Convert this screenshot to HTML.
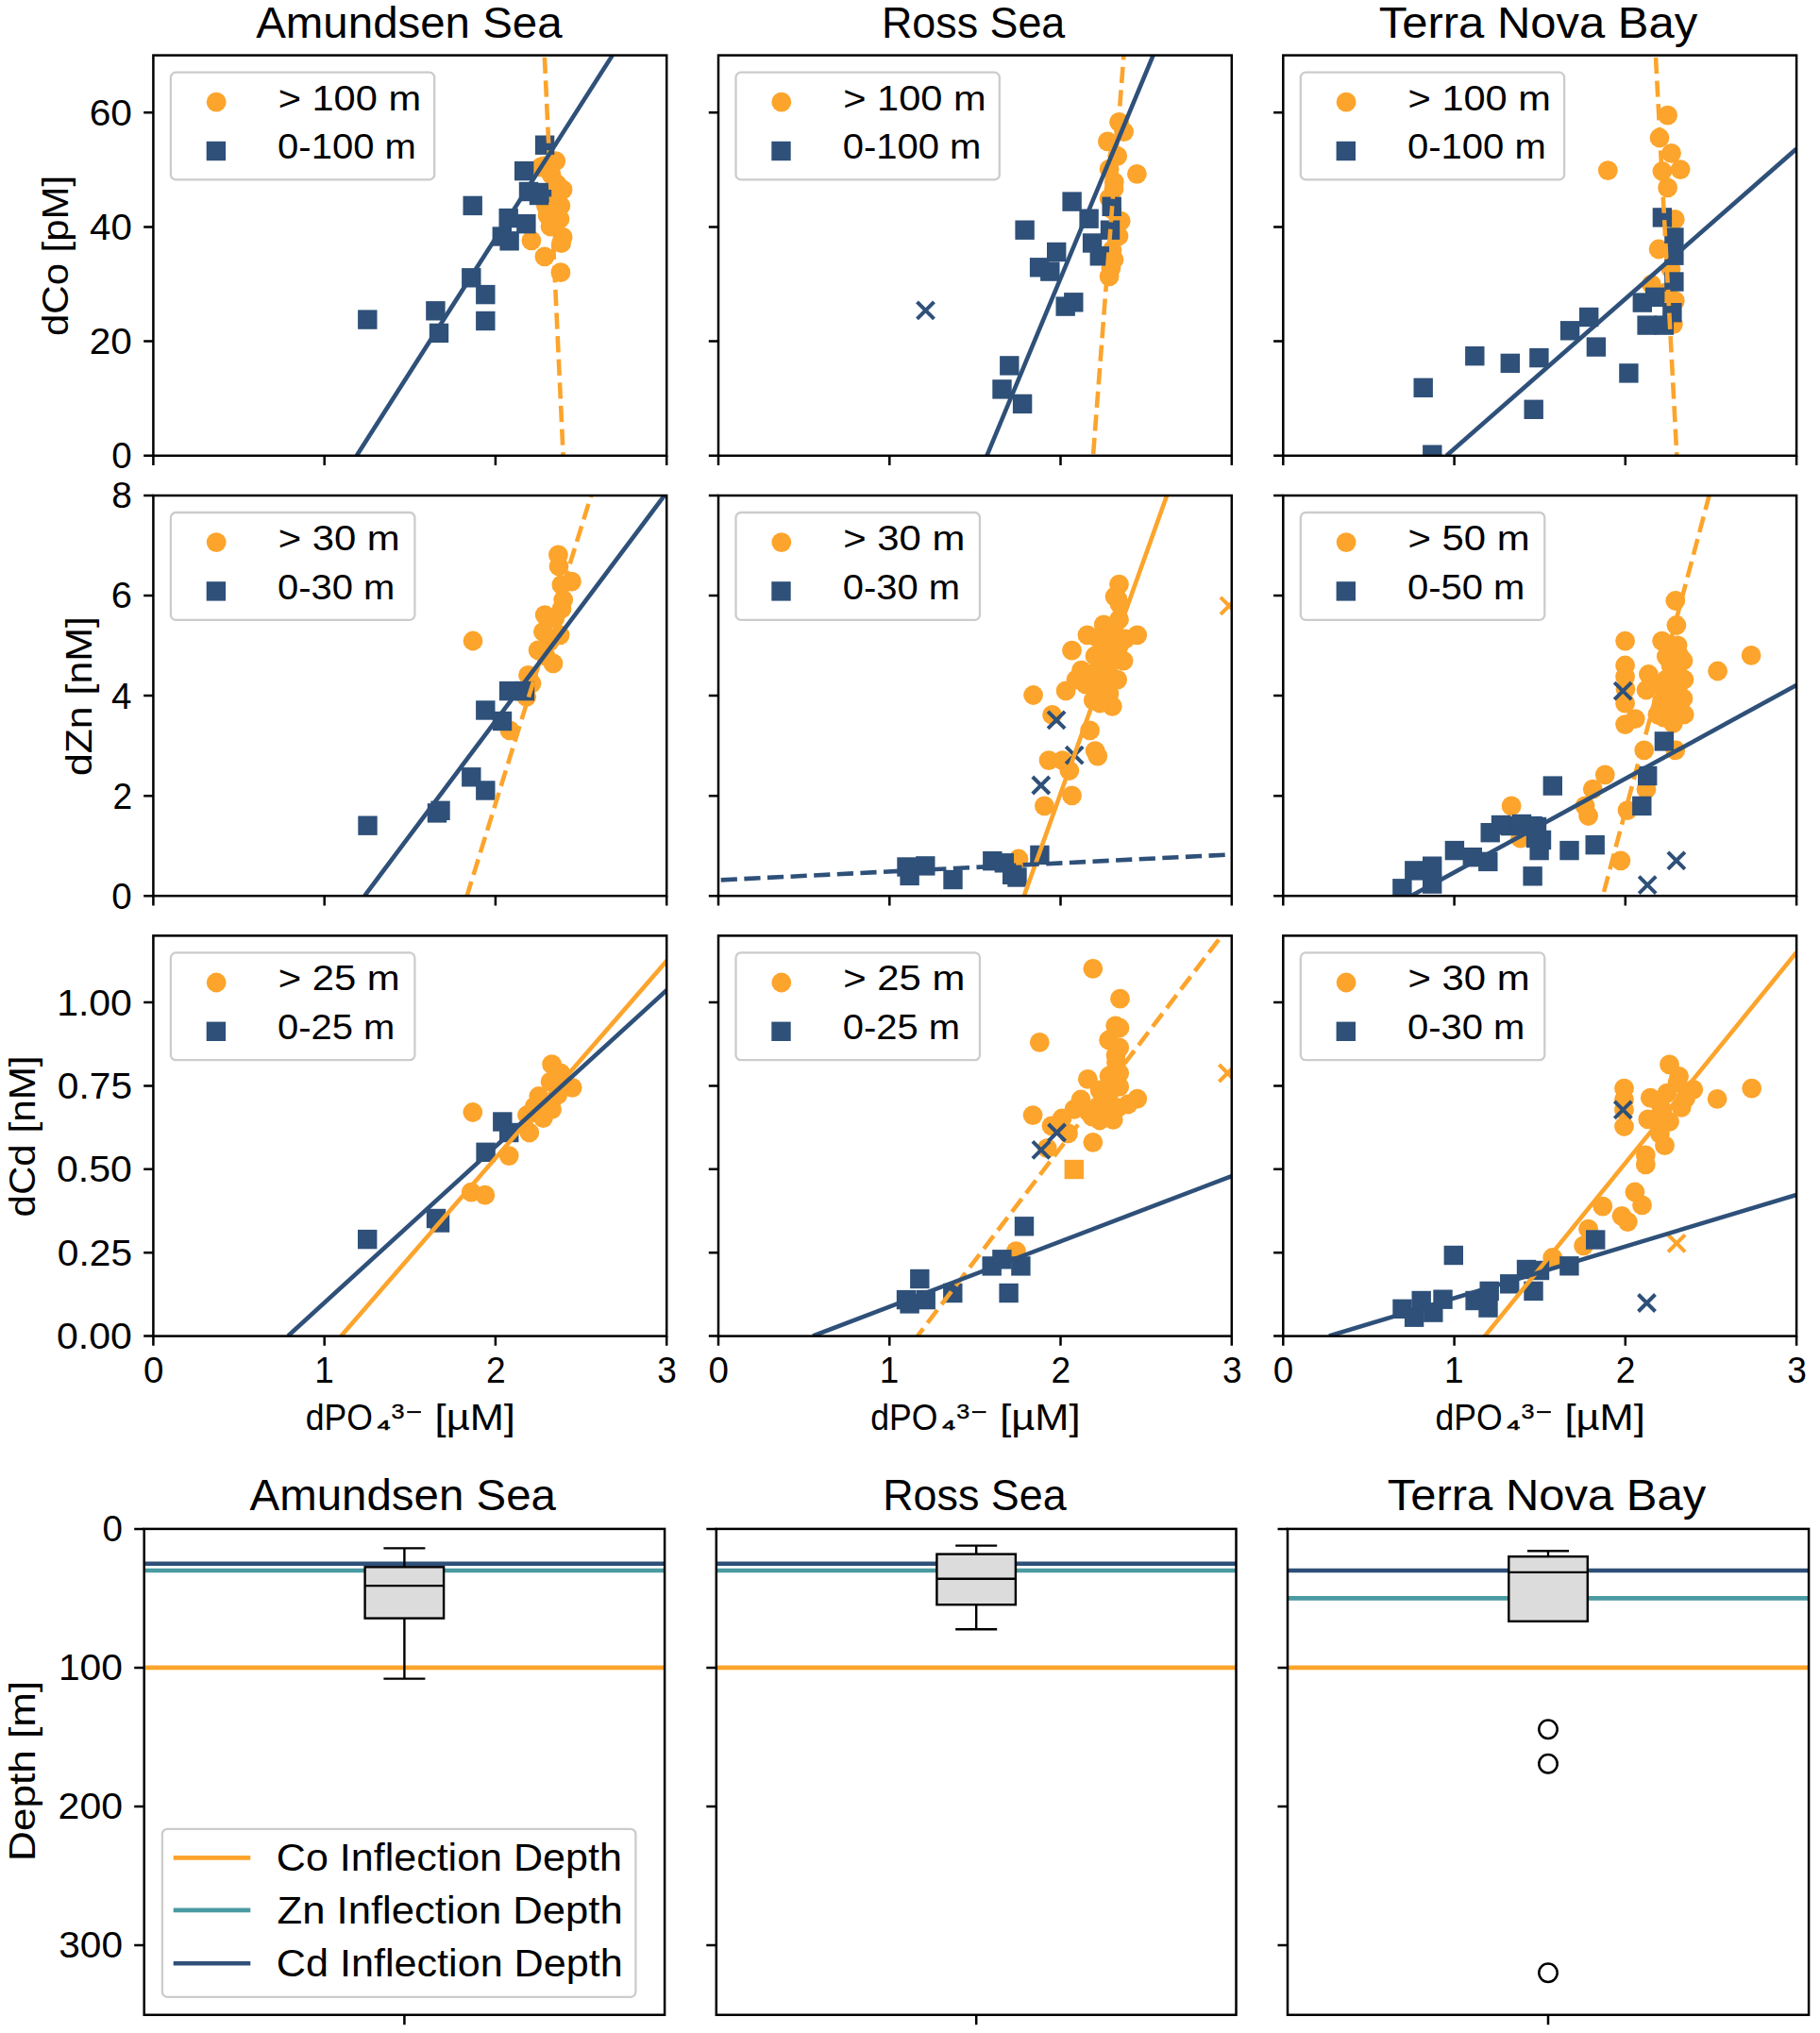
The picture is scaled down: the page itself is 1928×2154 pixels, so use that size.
<!DOCTYPE html>
<html><head><meta charset="utf-8"><title>Inflection depths</title><style>
html,body{margin:0;padding:0;background:#fff;}svg{display:block;}text{font-family:"Liberation Sans", sans-serif;fill:#000;}
</style></head><body>
<svg width="1928" height="2154" viewBox="0 0 1928 2154">
<rect width="1928" height="2154" fill="#fff"/>
<defs>
<clipPath id="cp00"><rect x="162.4" y="58.6" width="543.8" height="424.2"/></clipPath>
<clipPath id="cp01"><rect x="761" y="58.6" width="543.8" height="424.2"/></clipPath>
<clipPath id="cp02"><rect x="1359.3" y="58.6" width="543.8" height="424.2"/></clipPath>
<clipPath id="cp10"><rect x="162.4" y="525" width="543.8" height="424.2"/></clipPath>
<clipPath id="cp11"><rect x="761" y="525" width="543.8" height="424.2"/></clipPath>
<clipPath id="cp12"><rect x="1359.3" y="525" width="543.8" height="424.2"/></clipPath>
<clipPath id="cp20"><rect x="162.4" y="991.4" width="543.8" height="424.2"/></clipPath>
<clipPath id="cp21"><rect x="761" y="991.4" width="543.8" height="424.2"/></clipPath>
<clipPath id="cp22"><rect x="1359.3" y="991.4" width="543.8" height="424.2"/></clipPath>
</defs>
<text x="271.21" y="40.1" font-size="46.4" textLength="324.39" lengthAdjust="spacingAndGlyphs">Amundsen Sea</text>
<text x="933.92" y="40.1" font-size="46.4" textLength="194.4" lengthAdjust="spacingAndGlyphs">Ross Sea</text>
<text x="1460.82" y="40.1" font-size="46.4" textLength="337.36" lengthAdjust="spacingAndGlyphs">Terra Nova Bay</text>
<g clip-path="url(#cp00)">
<circle cx="573" cy="177" r="10.4" fill="#FCA42B"/>
<circle cx="588.7" cy="170.7" r="10.4" fill="#FCA42B"/>
<circle cx="576.2" cy="175.8" r="10.4" fill="#FCA42B"/>
<circle cx="584" cy="185" r="10.4" fill="#FCA42B"/>
<circle cx="590" cy="195" r="10.4" fill="#FCA42B"/>
<circle cx="596.1" cy="200.9" r="10.4" fill="#FCA42B"/>
<circle cx="585" cy="205" r="10.4" fill="#FCA42B"/>
<circle cx="578.4" cy="218" r="10.4" fill="#FCA42B"/>
<circle cx="593.9" cy="218" r="10.4" fill="#FCA42B"/>
<circle cx="580" cy="228" r="10.4" fill="#FCA42B"/>
<circle cx="593" cy="232" r="10.4" fill="#FCA42B"/>
<circle cx="583" cy="240" r="10.4" fill="#FCA42B"/>
<circle cx="596.1" cy="251.1" r="10.4" fill="#FCA42B"/>
<circle cx="594.6" cy="257.7" r="10.4" fill="#FCA42B"/>
<circle cx="562.9" cy="254.8" r="10.4" fill="#FCA42B"/>
<circle cx="576.9" cy="271.8" r="10.4" fill="#FCA42B"/>
<circle cx="593.9" cy="288.7" r="10.4" fill="#FCA42B"/>
<rect x="566.9" y="143.5" width="20.4" height="20.4" fill="#2E5079"/>
<rect x="545" y="170.9" width="20.4" height="20.4" fill="#2E5079"/>
<rect x="549.8" y="192.8" width="20.4" height="20.4" fill="#2E5079"/>
<rect x="560.8" y="196.8" width="20.4" height="20.4" fill="#2E5079"/>
<rect x="563.8" y="193.8" width="20.4" height="20.4" fill="#2E5079"/>
<rect x="490.5" y="207.7" width="20.4" height="20.4" fill="#2E5079"/>
<rect x="528.5" y="220.9" width="20.4" height="20.4" fill="#2E5079"/>
<rect x="547.2" y="227" width="20.4" height="20.4" fill="#2E5079"/>
<rect x="521.6" y="240.3" width="20.4" height="20.4" fill="#2E5079"/>
<rect x="529.4" y="245.1" width="20.4" height="20.4" fill="#2E5079"/>
<rect x="489.1" y="284.1" width="20.4" height="20.4" fill="#2E5079"/>
<rect x="504.1" y="301.9" width="20.4" height="20.4" fill="#2E5079"/>
<rect x="451.2" y="319.1" width="20.4" height="20.4" fill="#2E5079"/>
<rect x="379.1" y="328.4" width="20.4" height="20.4" fill="#2E5079"/>
<rect x="504.1" y="329.8" width="20.4" height="20.4" fill="#2E5079"/>
<rect x="454.8" y="342.7" width="20.4" height="20.4" fill="#2E5079"/>
<line x1="576.8" y1="58.6" x2="596.6" y2="482.8" stroke="#FCA42B" stroke-width="4.6" stroke-linecap="butt" stroke-dasharray="17.2 7.44" stroke-dashoffset="22.5"/>
<line x1="377.8" y1="482.8" x2="648.8" y2="58.6" stroke="#2E5079" stroke-width="4.6" stroke-linecap="butt"/>
</g>
<rect x="180.9" y="76.6" width="279.3" height="113.8" rx="5.5" fill="#fff" fill-opacity="0.8" stroke="#CCCCCC" stroke-width="2.3"/>
<circle cx="229.2" cy="108.2" r="10.4" fill="#FCA42B"/>
<rect x="218.7" y="149.8" width="20.4" height="20.4" fill="#2E5079"/>
<text x="294.66" y="116.6" font-size="36.5" textLength="151.39" lengthAdjust="spacingAndGlyphs">&gt; 100 m</text>
<text x="294.14" y="168.4" font-size="36.5" textLength="146.67" lengthAdjust="spacingAndGlyphs">0-100 m</text>
<rect x="162.4" y="58.6" width="543.8" height="424.2" fill="none" stroke="#000" stroke-width="2.5"/>
<path d="M162.4 482.8v10.2M343.7 482.8v10.2M524.9 482.8v10.2M706.2 482.8v10.2M162.4 482.8h-10.2M162.4 361.6h-10.2M162.4 240.4h-10.2M162.4 119.2h-10.2" stroke="#000" stroke-width="2.5" fill="none"/>
<text x="118.35" y="496.2" font-size="38.2" textLength="21.46" lengthAdjust="spacingAndGlyphs">0</text>
<text x="94.81" y="375" font-size="38.2" textLength="45.09" lengthAdjust="spacingAndGlyphs">20</text>
<text x="95.03" y="253.8" font-size="38.2" textLength="44.86" lengthAdjust="spacingAndGlyphs">40</text>
<text x="94.65" y="132.6" font-size="38.2" textLength="45.25" lengthAdjust="spacingAndGlyphs">60</text>
<g clip-path="url(#cp01)">
<circle cx="1185.5" cy="129.3" r="10.4" fill="#FCA42B"/>
<circle cx="1190.6" cy="139.6" r="10.4" fill="#FCA42B"/>
<circle cx="1173.4" cy="149.9" r="10.4" fill="#FCA42B"/>
<circle cx="1183.7" cy="165.4" r="10.4" fill="#FCA42B"/>
<circle cx="1204.4" cy="184.3" r="10.4" fill="#FCA42B"/>
<circle cx="1175.1" cy="179.2" r="10.4" fill="#FCA42B"/>
<circle cx="1180.3" cy="192.9" r="10.4" fill="#FCA42B"/>
<circle cx="1180" cy="200" r="10.4" fill="#FCA42B"/>
<circle cx="1175.1" cy="210.2" r="10.4" fill="#FCA42B"/>
<circle cx="1178" cy="222" r="10.4" fill="#FCA42B"/>
<circle cx="1187.2" cy="234.2" r="10.4" fill="#FCA42B"/>
<circle cx="1185" cy="250" r="10.4" fill="#FCA42B"/>
<circle cx="1178" cy="265" r="10.4" fill="#FCA42B"/>
<circle cx="1180" cy="275" r="10.4" fill="#FCA42B"/>
<circle cx="1176.9" cy="284.2" r="10.4" fill="#FCA42B"/>
<circle cx="1175.1" cy="292.8" r="10.4" fill="#FCA42B"/>
<rect x="1125.4" y="203.4" width="20.4" height="20.4" fill="#2E5079"/>
<rect x="1143.4" y="221.5" width="20.4" height="20.4" fill="#2E5079"/>
<rect x="1167.5" y="208.6" width="20.4" height="20.4" fill="#2E5079"/>
<rect x="1165.8" y="233.5" width="20.4" height="20.4" fill="#2E5079"/>
<rect x="1075.4" y="233.5" width="20.4" height="20.4" fill="#2E5079"/>
<rect x="1109" y="256.8" width="20.4" height="20.4" fill="#2E5079"/>
<rect x="1146.9" y="247.3" width="20.4" height="20.4" fill="#2E5079"/>
<rect x="1154.6" y="261.1" width="20.4" height="20.4" fill="#2E5079"/>
<rect x="1090.9" y="273.1" width="20.4" height="20.4" fill="#2E5079"/>
<rect x="1102.1" y="277.4" width="20.4" height="20.4" fill="#2E5079"/>
<rect x="1127.1" y="310.1" width="20.4" height="20.4" fill="#2E5079"/>
<rect x="1118.5" y="314.4" width="20.4" height="20.4" fill="#2E5079"/>
<rect x="1059.1" y="377.2" width="20.4" height="20.4" fill="#2E5079"/>
<rect x="1051.3" y="402.2" width="20.4" height="20.4" fill="#2E5079"/>
<rect x="1072.9" y="417.7" width="20.4" height="20.4" fill="#2E5079"/>
<path d="M971.5 319.8L989.5 337.8M971.5 337.8L989.5 319.8" stroke="#2E5079" stroke-width="4" fill="none"/>
<line x1="1190.4" y1="58.6" x2="1158" y2="482.8" stroke="#FCA42B" stroke-width="4.6" stroke-linecap="butt" stroke-dasharray="17.2 7.44" stroke-dashoffset="12.4"/>
<line x1="1221.6" y1="58.6" x2="1045.4" y2="482.8" stroke="#2E5079" stroke-width="4.6" stroke-linecap="butt"/>
</g>
<rect x="779.5" y="76.6" width="279.3" height="113.8" rx="5.5" fill="#fff" fill-opacity="0.8" stroke="#CCCCCC" stroke-width="2.3"/>
<circle cx="827.8" cy="108.2" r="10.4" fill="#FCA42B"/>
<rect x="817.3" y="149.8" width="20.4" height="20.4" fill="#2E5079"/>
<text x="893.26" y="116.6" font-size="36.5" textLength="151.39" lengthAdjust="spacingAndGlyphs">&gt; 100 m</text>
<text x="892.74" y="168.4" font-size="36.5" textLength="146.67" lengthAdjust="spacingAndGlyphs">0-100 m</text>
<rect x="761" y="58.6" width="543.8" height="424.2" fill="none" stroke="#000" stroke-width="2.5"/>
<path d="M761 482.8v10.2M942.3 482.8v10.2M1123.5 482.8v10.2M1304.8 482.8v10.2M761 482.8h-10.2M761 361.6h-10.2M761 240.4h-10.2M761 119.2h-10.2" stroke="#000" stroke-width="2.5" fill="none"/>
<g clip-path="url(#cp02)">
<circle cx="1766.6" cy="122.1" r="10.4" fill="#FCA42B"/>
<circle cx="1758" cy="146" r="10.4" fill="#FCA42B"/>
<circle cx="1770.5" cy="162.3" r="10.4" fill="#FCA42B"/>
<circle cx="1780.1" cy="179.6" r="10.4" fill="#FCA42B"/>
<circle cx="1760.9" cy="181.5" r="10.4" fill="#FCA42B"/>
<circle cx="1766.6" cy="198.8" r="10.4" fill="#FCA42B"/>
<circle cx="1703.3" cy="180.6" r="10.4" fill="#FCA42B"/>
<circle cx="1774.3" cy="232.4" r="10.4" fill="#FCA42B"/>
<circle cx="1757.1" cy="264" r="10.4" fill="#FCA42B"/>
<circle cx="1770" cy="285" r="10.4" fill="#FCA42B"/>
<circle cx="1749.4" cy="301.4" r="10.4" fill="#FCA42B"/>
<circle cx="1765" cy="310" r="10.4" fill="#FCA42B"/>
<circle cx="1774.3" cy="318.7" r="10.4" fill="#FCA42B"/>
<circle cx="1772.4" cy="343.6" r="10.4" fill="#FCA42B"/>
<rect x="1750.7" y="220.2" width="20.4" height="20.4" fill="#2E5079"/>
<rect x="1763.2" y="241.3" width="20.4" height="20.4" fill="#2E5079"/>
<rect x="1763.2" y="260.5" width="20.4" height="20.4" fill="#2E5079"/>
<rect x="1763.2" y="288.3" width="20.4" height="20.4" fill="#2E5079"/>
<rect x="1729.6" y="310.4" width="20.4" height="20.4" fill="#2E5079"/>
<rect x="1743" y="304.6" width="20.4" height="20.4" fill="#2E5079"/>
<rect x="1761.2" y="321" width="20.4" height="20.4" fill="#2E5079"/>
<rect x="1734.4" y="334.4" width="20.4" height="20.4" fill="#2E5079"/>
<rect x="1752.6" y="334.4" width="20.4" height="20.4" fill="#2E5079"/>
<rect x="1673" y="325.8" width="20.4" height="20.4" fill="#2E5079"/>
<rect x="1652.9" y="340.1" width="20.4" height="20.4" fill="#2E5079"/>
<rect x="1680.7" y="357.4" width="20.4" height="20.4" fill="#2E5079"/>
<rect x="1715.2" y="385.2" width="20.4" height="20.4" fill="#2E5079"/>
<rect x="1552.1" y="367" width="20.4" height="20.4" fill="#2E5079"/>
<rect x="1589.6" y="374.7" width="20.4" height="20.4" fill="#2E5079"/>
<rect x="1620.2" y="368.9" width="20.4" height="20.4" fill="#2E5079"/>
<rect x="1497.5" y="400.6" width="20.4" height="20.4" fill="#2E5079"/>
<rect x="1614.5" y="423.6" width="20.4" height="20.4" fill="#2E5079"/>
<rect x="1507.1" y="471.5" width="20.4" height="20.4" fill="#2E5079"/>
<line x1="1753.9" y1="58.6" x2="1776.3" y2="482.8" stroke="#FCA42B" stroke-width="4.6" stroke-linecap="butt" stroke-dasharray="17.2 7.44" stroke-dashoffset="22.3"/>
<line x1="1532.3" y1="482.8" x2="1902.9" y2="157.8" stroke="#2E5079" stroke-width="4.6" stroke-linecap="butt"/>
</g>
<rect x="1377.8" y="76.6" width="279.3" height="113.8" rx="5.5" fill="#fff" fill-opacity="0.8" stroke="#CCCCCC" stroke-width="2.3"/>
<circle cx="1426.1" cy="108.2" r="10.4" fill="#FCA42B"/>
<rect x="1415.6" y="149.8" width="20.4" height="20.4" fill="#2E5079"/>
<text x="1491.56" y="116.6" font-size="36.5" textLength="151.39" lengthAdjust="spacingAndGlyphs">&gt; 100 m</text>
<text x="1491.04" y="168.4" font-size="36.5" textLength="146.67" lengthAdjust="spacingAndGlyphs">0-100 m</text>
<rect x="1359.3" y="58.6" width="543.8" height="424.2" fill="none" stroke="#000" stroke-width="2.5"/>
<path d="M1359.3 482.8v10.2M1540.6 482.8v10.2M1721.8 482.8v10.2M1903.1 482.8v10.2M1359.3 482.8h-10.2M1359.3 361.6h-10.2M1359.3 240.4h-10.2M1359.3 119.2h-10.2" stroke="#000" stroke-width="2.5" fill="none"/>
<g clip-path="url(#cp10)">
<circle cx="501" cy="679" r="10.4" fill="#FCA42B"/>
<circle cx="591.4" cy="587.8" r="10.4" fill="#FCA42B"/>
<circle cx="592" cy="600" r="10.4" fill="#FCA42B"/>
<circle cx="605.5" cy="616.1" r="10.4" fill="#FCA42B"/>
<circle cx="594.9" cy="619.7" r="10.4" fill="#FCA42B"/>
<circle cx="596.7" cy="635.6" r="10.4" fill="#FCA42B"/>
<circle cx="595" cy="645" r="10.4" fill="#FCA42B"/>
<circle cx="577.2" cy="651.6" r="10.4" fill="#FCA42B"/>
<circle cx="587.8" cy="655.1" r="10.4" fill="#FCA42B"/>
<circle cx="575.4" cy="669.3" r="10.4" fill="#FCA42B"/>
<circle cx="593.1" cy="672.8" r="10.4" fill="#FCA42B"/>
<circle cx="582" cy="680" r="10.4" fill="#FCA42B"/>
<circle cx="570.1" cy="688.8" r="10.4" fill="#FCA42B"/>
<circle cx="578" cy="695" r="10.4" fill="#FCA42B"/>
<circle cx="586" cy="702.9" r="10.4" fill="#FCA42B"/>
<circle cx="559.5" cy="715.3" r="10.4" fill="#FCA42B"/>
<circle cx="563" cy="724.2" r="10.4" fill="#FCA42B"/>
<circle cx="557.7" cy="738.3" r="10.4" fill="#FCA42B"/>
<circle cx="540" cy="773.8" r="10.4" fill="#FCA42B"/>
<rect x="528.9" y="721.9" width="20.4" height="20.4" fill="#2E5079"/>
<rect x="545.7" y="721.9" width="20.4" height="20.4" fill="#2E5079"/>
<rect x="504.1" y="742.3" width="20.4" height="20.4" fill="#2E5079"/>
<rect x="521.8" y="753.8" width="20.4" height="20.4" fill="#2E5079"/>
<rect x="489.1" y="813.1" width="20.4" height="20.4" fill="#2E5079"/>
<rect x="504.1" y="827.3" width="20.4" height="20.4" fill="#2E5079"/>
<rect x="452.8" y="851.2" width="20.4" height="20.4" fill="#2E5079"/>
<rect x="456.3" y="848.6" width="20.4" height="20.4" fill="#2E5079"/>
<rect x="379.3" y="864.5" width="20.4" height="20.4" fill="#2E5079"/>
<line x1="494.7" y1="949" x2="626.2" y2="525" stroke="#FCA42B" stroke-width="4.6" stroke-linecap="butt" stroke-dasharray="17.2 7.44" stroke-dashoffset="1.5"/>
<line x1="386.4" y1="949" x2="703.8" y2="525" stroke="#2E5079" stroke-width="4.6" stroke-linecap="butt"/>
</g>
<rect x="180.9" y="543" width="258.5" height="113.8" rx="5.5" fill="#fff" fill-opacity="0.8" stroke="#CCCCCC" stroke-width="2.3"/>
<circle cx="229.2" cy="574.6" r="10.4" fill="#FCA42B"/>
<rect x="218.7" y="616.2" width="20.4" height="20.4" fill="#2E5079"/>
<text x="294.65" y="583" font-size="36.5" textLength="129.03" lengthAdjust="spacingAndGlyphs">&gt; 30 m</text>
<text x="294.14" y="634.8" font-size="36.5" textLength="124.24" lengthAdjust="spacingAndGlyphs">0-30 m</text>
<rect x="162.4" y="525" width="543.8" height="424.2" fill="none" stroke="#000" stroke-width="2.5"/>
<path d="M162.4 949.2v10.2M343.7 949.2v10.2M524.9 949.2v10.2M706.2 949.2v10.2M162.4 949.2h-10.2M162.4 843.2h-10.2M162.4 737.1h-10.2M162.4 631.1h-10.2M162.4 525h-10.2" stroke="#000" stroke-width="2.5" fill="none"/>
<text x="118.35" y="962.6" font-size="38.2" textLength="21.46" lengthAdjust="spacingAndGlyphs">0</text>
<text x="119.5" y="856.55" font-size="38.2" textLength="20.67" lengthAdjust="spacingAndGlyphs">2</text>
<text x="117.98" y="750.5" font-size="38.2" textLength="21.45" lengthAdjust="spacingAndGlyphs">4</text>
<text x="117.85" y="644.45" font-size="38.2" textLength="22.21" lengthAdjust="spacingAndGlyphs">6</text>
<text x="118.33" y="538.4" font-size="38.2" textLength="21.65" lengthAdjust="spacingAndGlyphs">8</text>
<g clip-path="url(#cp11)">
<circle cx="1185.5" cy="619.1" r="10.4" fill="#FCA42B"/>
<circle cx="1183.7" cy="634.6" r="10.4" fill="#FCA42B"/>
<circle cx="1186" cy="640" r="10.4" fill="#FCA42B"/>
<circle cx="1181" cy="632" r="10.4" fill="#FCA42B"/>
<circle cx="1163" cy="676" r="10.4" fill="#FCA42B"/>
<circle cx="1192" cy="677" r="10.4" fill="#FCA42B"/>
<circle cx="1185.5" cy="656.4" r="10.4" fill="#FCA42B"/>
<circle cx="1169.2" cy="661.9" r="10.4" fill="#FCA42B"/>
<circle cx="1180" cy="665" r="10.4" fill="#FCA42B"/>
<circle cx="1151.9" cy="672.8" r="10.4" fill="#FCA42B"/>
<circle cx="1204.7" cy="672.8" r="10.4" fill="#FCA42B"/>
<circle cx="1179.2" cy="676.4" r="10.4" fill="#FCA42B"/>
<circle cx="1135.5" cy="689.2" r="10.4" fill="#FCA42B"/>
<circle cx="1176.4" cy="692.8" r="10.4" fill="#FCA42B"/>
<circle cx="1190.1" cy="700.1" r="10.4" fill="#FCA42B"/>
<circle cx="1175" cy="705" r="10.4" fill="#FCA42B"/>
<circle cx="1145.5" cy="710.1" r="10.4" fill="#FCA42B"/>
<circle cx="1161.9" cy="711" r="10.4" fill="#FCA42B"/>
<circle cx="1183.7" cy="720.1" r="10.4" fill="#FCA42B"/>
<circle cx="1169.2" cy="723.7" r="10.4" fill="#FCA42B"/>
<circle cx="1165" cy="730" r="10.4" fill="#FCA42B"/>
<circle cx="1129.1" cy="731.9" r="10.4" fill="#FCA42B"/>
<circle cx="1094.6" cy="736.5" r="10.4" fill="#FCA42B"/>
<circle cx="1158.3" cy="741.9" r="10.4" fill="#FCA42B"/>
<circle cx="1178.3" cy="748.3" r="10.4" fill="#FCA42B"/>
<circle cx="1114.6" cy="757.4" r="10.4" fill="#FCA42B"/>
<circle cx="1154.6" cy="773.8" r="10.4" fill="#FCA42B"/>
<circle cx="1160.1" cy="795.6" r="10.4" fill="#FCA42B"/>
<circle cx="1162.8" cy="801.1" r="10.4" fill="#FCA42B"/>
<circle cx="1111" cy="805.6" r="10.4" fill="#FCA42B"/>
<circle cx="1125.5" cy="805.6" r="10.4" fill="#FCA42B"/>
<circle cx="1132.8" cy="816.5" r="10.4" fill="#FCA42B"/>
<circle cx="1135.5" cy="842.9" r="10.4" fill="#FCA42B"/>
<circle cx="1106.4" cy="853.8" r="10.4" fill="#FCA42B"/>
<circle cx="1079" cy="910" r="10.4" fill="#FCA42B"/>
<circle cx="1170" cy="680" r="10.4" fill="#FCA42B"/>
<circle cx="1160" cy="695" r="10.4" fill="#FCA42B"/>
<circle cx="1185" cy="685" r="10.4" fill="#FCA42B"/>
<circle cx="1150" cy="725" r="10.4" fill="#FCA42B"/>
<circle cx="1175" cy="735" r="10.4" fill="#FCA42B"/>
<circle cx="1165" cy="745" r="10.4" fill="#FCA42B"/>
<circle cx="1140" cy="720" r="10.4" fill="#FCA42B"/>
<rect x="950.3" y="908.3" width="20.4" height="20.4" fill="#2E5079"/>
<rect x="970.1" y="907.2" width="20.4" height="20.4" fill="#2E5079"/>
<rect x="953.4" y="917.7" width="20.4" height="20.4" fill="#2E5079"/>
<rect x="999.3" y="921.8" width="20.4" height="20.4" fill="#2E5079"/>
<rect x="1041.1" y="902" width="20.4" height="20.4" fill="#2E5079"/>
<rect x="1053.6" y="904.1" width="20.4" height="20.4" fill="#2E5079"/>
<rect x="1062" y="916.6" width="20.4" height="20.4" fill="#2E5079"/>
<rect x="1067.3" y="919.3" width="20.4" height="20.4" fill="#2E5079"/>
<rect x="1091.2" y="895.7" width="20.4" height="20.4" fill="#2E5079"/>
<path d="M1110.1 753.9L1128.1 771.9M1110.1 771.9L1128.1 753.9" stroke="#2E5079" stroke-width="4" fill="none"/>
<path d="M1129.2 791.2L1147.2 809.2M1129.2 809.2L1147.2 791.2" stroke="#2E5079" stroke-width="4" fill="none"/>
<path d="M1093.8 823L1111.8 841M1093.8 841L1111.8 823" stroke="#2E5079" stroke-width="4" fill="none"/>
<path d="M1293 632.9L1311 650.9M1293 650.9L1311 632.9" stroke="#FCA42B" stroke-width="4" fill="none"/>
<line x1="1084.9" y1="949" x2="1236.1" y2="525" stroke="#FCA42B" stroke-width="4.6" stroke-linecap="butt"/>
<line x1="761" y1="932.5" x2="1304.7" y2="905.4" stroke="#2E5079" stroke-width="4.6" stroke-linecap="butt" stroke-dasharray="17.2 7.44" stroke-dashoffset="21.9"/>
</g>
<rect x="779.5" y="543" width="258.5" height="113.8" rx="5.5" fill="#fff" fill-opacity="0.8" stroke="#CCCCCC" stroke-width="2.3"/>
<circle cx="827.8" cy="574.6" r="10.4" fill="#FCA42B"/>
<rect x="817.3" y="616.2" width="20.4" height="20.4" fill="#2E5079"/>
<text x="893.25" y="583" font-size="36.5" textLength="129.03" lengthAdjust="spacingAndGlyphs">&gt; 30 m</text>
<text x="892.74" y="634.8" font-size="36.5" textLength="124.24" lengthAdjust="spacingAndGlyphs">0-30 m</text>
<rect x="761" y="525" width="543.8" height="424.2" fill="none" stroke="#000" stroke-width="2.5"/>
<path d="M761 949.2v10.2M942.3 949.2v10.2M1123.5 949.2v10.2M1304.8 949.2v10.2M761 949.2h-10.2M761 843.2h-10.2M761 737.1h-10.2M761 631.1h-10.2M761 525h-10.2" stroke="#000" stroke-width="2.5" fill="none"/>
<g clip-path="url(#cp12)">
<circle cx="1774.8" cy="636.5" r="10.4" fill="#FCA42B"/>
<circle cx="1775.9" cy="662.5" r="10.4" fill="#FCA42B"/>
<circle cx="1721.6" cy="679.1" r="10.4" fill="#FCA42B"/>
<circle cx="1760.6" cy="679.1" r="10.4" fill="#FCA42B"/>
<circle cx="1777.1" cy="683.8" r="10.4" fill="#FCA42B"/>
<circle cx="1855.1" cy="694.4" r="10.4" fill="#FCA42B"/>
<circle cx="1765.3" cy="695.6" r="10.4" fill="#FCA42B"/>
<circle cx="1779.5" cy="695.6" r="10.4" fill="#FCA42B"/>
<circle cx="1721.6" cy="705" r="10.4" fill="#FCA42B"/>
<circle cx="1783" cy="700" r="10.4" fill="#FCA42B"/>
<circle cx="1784" cy="720" r="10.4" fill="#FCA42B"/>
<circle cx="1783" cy="740" r="10.4" fill="#FCA42B"/>
<circle cx="1772" cy="752" r="10.4" fill="#FCA42B"/>
<circle cx="1757" cy="725" r="10.4" fill="#FCA42B"/>
<circle cx="1770" cy="705" r="10.4" fill="#FCA42B"/>
<circle cx="1819.6" cy="711" r="10.4" fill="#FCA42B"/>
<circle cx="1746.4" cy="714.5" r="10.4" fill="#FCA42B"/>
<circle cx="1774.8" cy="714.5" r="10.4" fill="#FCA42B"/>
<circle cx="1721.6" cy="716.9" r="10.4" fill="#FCA42B"/>
<circle cx="1765" cy="720" r="10.4" fill="#FCA42B"/>
<circle cx="1744" cy="731" r="10.4" fill="#FCA42B"/>
<circle cx="1722" cy="730" r="10.4" fill="#FCA42B"/>
<circle cx="1777.1" cy="728.7" r="10.4" fill="#FCA42B"/>
<circle cx="1779.5" cy="738.1" r="10.4" fill="#FCA42B"/>
<circle cx="1768" cy="740" r="10.4" fill="#FCA42B"/>
<circle cx="1760.6" cy="742.8" r="10.4" fill="#FCA42B"/>
<circle cx="1721.6" cy="745.2" r="10.4" fill="#FCA42B"/>
<circle cx="1755.9" cy="757" r="10.4" fill="#FCA42B"/>
<circle cx="1784.2" cy="757" r="10.4" fill="#FCA42B"/>
<circle cx="1762" cy="760" r="10.4" fill="#FCA42B"/>
<circle cx="1732.2" cy="761.7" r="10.4" fill="#FCA42B"/>
<circle cx="1721.6" cy="767.6" r="10.4" fill="#FCA42B"/>
<circle cx="1772.4" cy="766.5" r="10.4" fill="#FCA42B"/>
<circle cx="1741.7" cy="794.8" r="10.4" fill="#FCA42B"/>
<circle cx="1774.8" cy="794.8" r="10.4" fill="#FCA42B"/>
<circle cx="1700.3" cy="820.8" r="10.4" fill="#FCA42B"/>
<circle cx="1687.3" cy="836.2" r="10.4" fill="#FCA42B"/>
<circle cx="1744" cy="836.2" r="10.4" fill="#FCA42B"/>
<circle cx="1679.1" cy="853.9" r="10.4" fill="#FCA42B"/>
<circle cx="1682.6" cy="864.5" r="10.4" fill="#FCA42B"/>
<circle cx="1601.1" cy="853.9" r="10.4" fill="#FCA42B"/>
<circle cx="1724" cy="858.6" r="10.4" fill="#FCA42B"/>
<circle cx="1610.6" cy="888.1" r="10.4" fill="#FCA42B"/>
<circle cx="1716.9" cy="911.8" r="10.4" fill="#FCA42B"/>
<rect x="1752.7" y="775.2" width="20.4" height="20.4" fill="#2E5079"/>
<rect x="1735" y="811.8" width="20.4" height="20.4" fill="#2E5079"/>
<rect x="1729.1" y="843.7" width="20.4" height="20.4" fill="#2E5079"/>
<rect x="1634.6" y="822.4" width="20.4" height="20.4" fill="#2E5079"/>
<rect x="1679.5" y="885" width="20.4" height="20.4" fill="#2E5079"/>
<rect x="1652.3" y="890.9" width="20.4" height="20.4" fill="#2E5079"/>
<rect x="1620.4" y="890.9" width="20.4" height="20.4" fill="#2E5079"/>
<rect x="1613.4" y="918.1" width="20.4" height="20.4" fill="#2E5079"/>
<rect x="1589.7" y="864.9" width="20.4" height="20.4" fill="#2E5079"/>
<rect x="1613.4" y="864.9" width="20.4" height="20.4" fill="#2E5079"/>
<rect x="1568.5" y="872" width="20.4" height="20.4" fill="#2E5079"/>
<rect x="1616.8" y="877.8" width="20.4" height="20.4" fill="#2E5079"/>
<rect x="1579.8" y="863.8" width="20.4" height="20.4" fill="#2E5079"/>
<rect x="1601.8" y="862.8" width="20.4" height="20.4" fill="#2E5079"/>
<rect x="1617.8" y="865.8" width="20.4" height="20.4" fill="#2E5079"/>
<rect x="1622.8" y="879.8" width="20.4" height="20.4" fill="#2E5079"/>
<rect x="1530.7" y="890.9" width="20.4" height="20.4" fill="#2E5079"/>
<rect x="1549.6" y="898" width="20.4" height="20.4" fill="#2E5079"/>
<rect x="1566.1" y="902.7" width="20.4" height="20.4" fill="#2E5079"/>
<rect x="1507" y="907.5" width="20.4" height="20.4" fill="#2E5079"/>
<rect x="1488.1" y="912.2" width="20.4" height="20.4" fill="#2E5079"/>
<rect x="1507" y="926.4" width="20.4" height="20.4" fill="#2E5079"/>
<rect x="1475.2" y="931.1" width="20.4" height="20.4" fill="#2E5079"/>
<path d="M1710.2 723.2L1728.2 741.2M1710.2 741.2L1728.2 723.2" stroke="#2E5079" stroke-width="4" fill="none"/>
<path d="M1766.9 902.8L1784.9 920.8M1766.9 920.8L1784.9 902.8" stroke="#2E5079" stroke-width="4" fill="none"/>
<path d="M1736.2 928.7L1754.2 946.7M1736.2 946.7L1754.2 928.7" stroke="#2E5079" stroke-width="4" fill="none"/>
<line x1="1698" y1="949" x2="1810.6" y2="525" stroke="#FCA42B" stroke-width="4.6" stroke-linecap="butt" stroke-dasharray="17.2 7.44" stroke-dashoffset="20.5"/>
<line x1="1495.3" y1="949" x2="1902.9" y2="725.9" stroke="#2E5079" stroke-width="4.6" stroke-linecap="butt"/>
</g>
<rect x="1377.8" y="543" width="258.5" height="113.8" rx="5.5" fill="#fff" fill-opacity="0.8" stroke="#CCCCCC" stroke-width="2.3"/>
<circle cx="1426.1" cy="574.6" r="10.4" fill="#FCA42B"/>
<rect x="1415.6" y="616.2" width="20.4" height="20.4" fill="#2E5079"/>
<text x="1491.55" y="583" font-size="36.5" textLength="129.03" lengthAdjust="spacingAndGlyphs">&gt; 50 m</text>
<text x="1491.04" y="634.8" font-size="36.5" textLength="124.24" lengthAdjust="spacingAndGlyphs">0-50 m</text>
<rect x="1359.3" y="525" width="543.8" height="424.2" fill="none" stroke="#000" stroke-width="2.5"/>
<path d="M1359.3 949.2v10.2M1540.6 949.2v10.2M1721.8 949.2v10.2M1903.1 949.2v10.2M1359.3 949.2h-10.2M1359.3 843.2h-10.2M1359.3 737.1h-10.2M1359.3 631.1h-10.2M1359.3 525h-10.2" stroke="#000" stroke-width="2.5" fill="none"/>
<g clip-path="url(#cp20)">
<circle cx="500.8" cy="1178.5" r="10.4" fill="#FCA42B"/>
<circle cx="539.2" cy="1224.6" r="10.4" fill="#FCA42B"/>
<circle cx="499.2" cy="1263.1" r="10.4" fill="#FCA42B"/>
<circle cx="513.8" cy="1266.2" r="10.4" fill="#FCA42B"/>
<circle cx="560.8" cy="1200" r="10.4" fill="#FCA42B"/>
<circle cx="558.5" cy="1181.5" r="10.4" fill="#FCA42B"/>
<circle cx="570.8" cy="1161.5" r="10.4" fill="#FCA42B"/>
<circle cx="584.6" cy="1127.7" r="10.4" fill="#FCA42B"/>
<circle cx="593.8" cy="1136.9" r="10.4" fill="#FCA42B"/>
<circle cx="606.2" cy="1152.3" r="10.4" fill="#FCA42B"/>
<circle cx="583.1" cy="1146.2" r="10.4" fill="#FCA42B"/>
<circle cx="584.6" cy="1175.4" r="10.4" fill="#FCA42B"/>
<circle cx="575.4" cy="1184.6" r="10.4" fill="#FCA42B"/>
<circle cx="566.2" cy="1172.3" r="10.4" fill="#FCA42B"/>
<circle cx="590.8" cy="1160" r="10.4" fill="#FCA42B"/>
<circle cx="578.5" cy="1169.2" r="10.4" fill="#FCA42B"/>
<rect x="379" y="1302.9" width="20.4" height="20.4" fill="#2E5079"/>
<rect x="451.8" y="1280.8" width="20.4" height="20.4" fill="#2E5079"/>
<rect x="455.8" y="1285.3" width="20.4" height="20.4" fill="#2E5079"/>
<rect x="504.4" y="1210.6" width="20.4" height="20.4" fill="#2E5079"/>
<rect x="522.1" y="1178.3" width="20.4" height="20.4" fill="#2E5079"/>
<rect x="529" y="1189.8" width="20.4" height="20.4" fill="#2E5079"/>
<line x1="361.4" y1="1415.5" x2="706.7" y2="1017.5" stroke="#FCA42B" stroke-width="4.6" stroke-linecap="butt"/>
<line x1="305.1" y1="1415.5" x2="706.7" y2="1048.6" stroke="#2E5079" stroke-width="4.6" stroke-linecap="butt"/>
</g>
<rect x="180.9" y="1009.4" width="258.5" height="113.8" rx="5.5" fill="#fff" fill-opacity="0.8" stroke="#CCCCCC" stroke-width="2.3"/>
<circle cx="229.2" cy="1041" r="10.4" fill="#FCA42B"/>
<rect x="218.7" y="1082.6" width="20.4" height="20.4" fill="#2E5079"/>
<text x="294.65" y="1049.4" font-size="36.5" textLength="129.03" lengthAdjust="spacingAndGlyphs">&gt; 25 m</text>
<text x="294.14" y="1101.2" font-size="36.5" textLength="124.24" lengthAdjust="spacingAndGlyphs">0-25 m</text>
<rect x="162.4" y="991.4" width="543.8" height="424.2" fill="none" stroke="#000" stroke-width="2.5"/>
<path d="M162.4 1415.6v10.2M343.7 1415.6v10.2M524.9 1415.6v10.2M706.2 1415.6v10.2M162.4 1415.6h-10.2M162.4 1327.2h-10.2M162.4 1238.8h-10.2M162.4 1150.5h-10.2M162.4 1062.1h-10.2" stroke="#000" stroke-width="2.5" fill="none"/>
<text x="60.06" y="1429" font-size="38.2" textLength="79.85" lengthAdjust="spacingAndGlyphs">0.00</text>
<text x="60.84" y="1340.62" font-size="38.2" textLength="79.18" lengthAdjust="spacingAndGlyphs">0.25</text>
<text x="60.06" y="1252.25" font-size="38.2" textLength="79.85" lengthAdjust="spacingAndGlyphs">0.50</text>
<text x="60.84" y="1163.88" font-size="38.2" textLength="79.18" lengthAdjust="spacingAndGlyphs">0.75</text>
<text x="60.16" y="1075.5" font-size="38.2" textLength="79.75" lengthAdjust="spacingAndGlyphs">1.00</text>
<text x="151.97" y="1465" font-size="38.2" textLength="21.46" lengthAdjust="spacingAndGlyphs">0</text>
<text x="333.22" y="1465" font-size="38.2" textLength="20.5" lengthAdjust="spacingAndGlyphs">1</text>
<text x="514.9" y="1465" font-size="38.2" textLength="20.67" lengthAdjust="spacingAndGlyphs">2</text>
<text x="696.31" y="1465" font-size="38.2" textLength="20.61" lengthAdjust="spacingAndGlyphs">3</text>
<text x="323.71" y="1514.6" font-size="39.5" textLength="71.1" lengthAdjust="spacingAndGlyphs">dPO</text>
<text x="399.73" y="1514.6" font-size="15" textLength="13.68" lengthAdjust="spacingAndGlyphs" stroke="#000" stroke-width="0.6">4</text>
<text x="414.55" y="1502.7" font-size="22.5" textLength="13.96" lengthAdjust="spacingAndGlyphs" stroke="#000" stroke-width="0.4">3</text>
<rect x="431.3" y="1495.1" width="14.6" height="2.0" fill="#000"/>
<text x="460.62" y="1514.6" font-size="39.5" textLength="85.25" lengthAdjust="spacingAndGlyphs">[µM]</text>
<g clip-path="url(#cp21)">
<circle cx="1157.8" cy="1026.3" r="10.4" fill="#FCA42B"/>
<circle cx="1186.5" cy="1058.2" r="10.4" fill="#FCA42B"/>
<circle cx="1101.3" cy="1104.4" r="10.4" fill="#FCA42B"/>
<circle cx="1181.7" cy="1086.8" r="10.4" fill="#FCA42B"/>
<circle cx="1174.6" cy="1102" r="10.4" fill="#FCA42B"/>
<circle cx="1185.7" cy="1109.9" r="10.4" fill="#FCA42B"/>
<circle cx="1186" cy="1089" r="10.4" fill="#FCA42B"/>
<circle cx="1182" cy="1118" r="10.4" fill="#FCA42B"/>
<circle cx="1170" cy="1170" r="10.4" fill="#FCA42B"/>
<circle cx="1165" cy="1187" r="10.4" fill="#FCA42B"/>
<circle cx="1182.5" cy="1125.9" r="10.4" fill="#FCA42B"/>
<circle cx="1185.7" cy="1137" r="10.4" fill="#FCA42B"/>
<circle cx="1175" cy="1140" r="10.4" fill="#FCA42B"/>
<circle cx="1152.3" cy="1143.4" r="10.4" fill="#FCA42B"/>
<circle cx="1185.7" cy="1151.4" r="10.4" fill="#FCA42B"/>
<circle cx="1165" cy="1155" r="10.4" fill="#FCA42B"/>
<circle cx="1204.8" cy="1164.1" r="10.4" fill="#FCA42B"/>
<circle cx="1174.6" cy="1159.3" r="10.4" fill="#FCA42B"/>
<circle cx="1145" cy="1165" r="10.4" fill="#FCA42B"/>
<circle cx="1195" cy="1170" r="10.4" fill="#FCA42B"/>
<circle cx="1163.4" cy="1172.1" r="10.4" fill="#FCA42B"/>
<circle cx="1137.9" cy="1175.3" r="10.4" fill="#FCA42B"/>
<circle cx="1184.1" cy="1173.7" r="10.4" fill="#FCA42B"/>
<circle cx="1150" cy="1175" r="10.4" fill="#FCA42B"/>
<circle cx="1157" cy="1183.2" r="10.4" fill="#FCA42B"/>
<circle cx="1179.3" cy="1186.4" r="10.4" fill="#FCA42B"/>
<circle cx="1125" cy="1185" r="10.4" fill="#FCA42B"/>
<circle cx="1094.1" cy="1181.6" r="10.4" fill="#FCA42B"/>
<circle cx="1114" cy="1192.8" r="10.4" fill="#FCA42B"/>
<circle cx="1131.5" cy="1200.8" r="10.4" fill="#FCA42B"/>
<circle cx="1157.8" cy="1210.3" r="10.4" fill="#FCA42B"/>
<circle cx="1109.2" cy="1216.7" r="10.4" fill="#FCA42B"/>
<circle cx="1076.4" cy="1325.7" r="10.4" fill="#FCA42B"/>
<rect x="964.1" y="1344.8" width="20.4" height="20.4" fill="#2E5079"/>
<rect x="949.8" y="1366.9" width="20.4" height="20.4" fill="#2E5079"/>
<rect x="970.5" y="1366.9" width="20.4" height="20.4" fill="#2E5079"/>
<rect x="953.4" y="1371.2" width="20.4" height="20.4" fill="#2E5079"/>
<rect x="999.1" y="1359.8" width="20.4" height="20.4" fill="#2E5079"/>
<rect x="1040.5" y="1331.2" width="20.4" height="20.4" fill="#2E5079"/>
<rect x="1051.2" y="1324.1" width="20.4" height="20.4" fill="#2E5079"/>
<rect x="1071.2" y="1331.2" width="20.4" height="20.4" fill="#2E5079"/>
<rect x="1058.4" y="1359.8" width="20.4" height="20.4" fill="#2E5079"/>
<rect x="1074.8" y="1289.1" width="20.4" height="20.4" fill="#2E5079"/>
<path d="M1110.6 1191L1128.6 1209M1110.6 1209L1128.6 1191" stroke="#2E5079" stroke-width="4" fill="none"/>
<path d="M1093.9 1209.3L1111.9 1227.3M1093.9 1227.3L1111.9 1209.3" stroke="#2E5079" stroke-width="4" fill="none"/>
<path d="M1291.4 1128L1309.4 1146M1291.4 1146L1309.4 1128" stroke="#FCA42B" stroke-width="4" fill="none"/>
<rect x="1127.6" y="1228.8" width="20.4" height="20.4" fill="#FCA42B"/>
<line x1="972" y1="1415.5" x2="1294.2" y2="991.4" stroke="#FCA42B" stroke-width="4.6" stroke-linecap="butt" stroke-dasharray="17.2 7.44" stroke-dashoffset="7.2"/>
<line x1="861.2" y1="1415.5" x2="1304.7" y2="1246.1" stroke="#2E5079" stroke-width="4.6" stroke-linecap="butt"/>
</g>
<rect x="779.5" y="1009.4" width="258.5" height="113.8" rx="5.5" fill="#fff" fill-opacity="0.8" stroke="#CCCCCC" stroke-width="2.3"/>
<circle cx="827.8" cy="1041" r="10.4" fill="#FCA42B"/>
<rect x="817.3" y="1082.6" width="20.4" height="20.4" fill="#2E5079"/>
<text x="893.25" y="1049.4" font-size="36.5" textLength="129.03" lengthAdjust="spacingAndGlyphs">&gt; 25 m</text>
<text x="892.74" y="1101.2" font-size="36.5" textLength="124.24" lengthAdjust="spacingAndGlyphs">0-25 m</text>
<rect x="761" y="991.4" width="543.8" height="424.2" fill="none" stroke="#000" stroke-width="2.5"/>
<path d="M761 1415.6v10.2M942.3 1415.6v10.2M1123.5 1415.6v10.2M1304.8 1415.6v10.2M761 1415.6h-10.2M761 1327.2h-10.2M761 1238.8h-10.2M761 1150.5h-10.2M761 1062.1h-10.2" stroke="#000" stroke-width="2.5" fill="none"/>
<text x="750.57" y="1465" font-size="38.2" textLength="21.46" lengthAdjust="spacingAndGlyphs">0</text>
<text x="931.82" y="1465" font-size="38.2" textLength="20.5" lengthAdjust="spacingAndGlyphs">1</text>
<text x="1113.5" y="1465" font-size="38.2" textLength="20.67" lengthAdjust="spacingAndGlyphs">2</text>
<text x="1294.91" y="1465" font-size="38.2" textLength="20.61" lengthAdjust="spacingAndGlyphs">3</text>
<text x="922.31" y="1514.6" font-size="39.5" textLength="71.1" lengthAdjust="spacingAndGlyphs">dPO</text>
<text x="998.33" y="1514.6" font-size="15" textLength="13.68" lengthAdjust="spacingAndGlyphs" stroke="#000" stroke-width="0.6">4</text>
<text x="1013.15" y="1502.7" font-size="22.5" textLength="13.96" lengthAdjust="spacingAndGlyphs" stroke="#000" stroke-width="0.4">3</text>
<rect x="1029.9" y="1495.1" width="14.6" height="2.0" fill="#000"/>
<text x="1059.22" y="1514.6" font-size="39.5" textLength="85.25" lengthAdjust="spacingAndGlyphs">[µM]</text>
<g clip-path="url(#cp22)">
<circle cx="1768.5" cy="1127.8" r="10.4" fill="#FCA42B"/>
<circle cx="1778.6" cy="1140.4" r="10.4" fill="#FCA42B"/>
<circle cx="1720.5" cy="1153.1" r="10.4" fill="#FCA42B"/>
<circle cx="1793.8" cy="1154.3" r="10.4" fill="#FCA42B"/>
<circle cx="1855.7" cy="1153.1" r="10.4" fill="#FCA42B"/>
<circle cx="1819.1" cy="1164.4" r="10.4" fill="#FCA42B"/>
<circle cx="1748.3" cy="1163.2" r="10.4" fill="#FCA42B"/>
<circle cx="1766" cy="1158.1" r="10.4" fill="#FCA42B"/>
<circle cx="1781.2" cy="1173.3" r="10.4" fill="#FCA42B"/>
<circle cx="1777" cy="1147" r="10.4" fill="#FCA42B"/>
<circle cx="1757" cy="1167" r="10.4" fill="#FCA42B"/>
<circle cx="1758.6" cy="1181.4" r="10.4" fill="#FCA42B"/>
<circle cx="1785.7" cy="1163.6" r="10.4" fill="#FCA42B"/>
<circle cx="1720.5" cy="1175.8" r="10.4" fill="#FCA42B"/>
<circle cx="1720.5" cy="1165" r="10.4" fill="#FCA42B"/>
<circle cx="1761" cy="1175.8" r="10.4" fill="#FCA42B"/>
<circle cx="1745.8" cy="1185.9" r="10.4" fill="#FCA42B"/>
<circle cx="1768.5" cy="1188.5" r="10.4" fill="#FCA42B"/>
<circle cx="1720.5" cy="1193.5" r="10.4" fill="#FCA42B"/>
<circle cx="1758.4" cy="1201.1" r="10.4" fill="#FCA42B"/>
<circle cx="1763.5" cy="1213.7" r="10.4" fill="#FCA42B"/>
<circle cx="1743.3" cy="1223.8" r="10.4" fill="#FCA42B"/>
<circle cx="1743.3" cy="1233.9" r="10.4" fill="#FCA42B"/>
<circle cx="1731.9" cy="1263" r="10.4" fill="#FCA42B"/>
<circle cx="1739.5" cy="1276.9" r="10.4" fill="#FCA42B"/>
<circle cx="1697.8" cy="1278.2" r="10.4" fill="#FCA42B"/>
<circle cx="1718" cy="1288.3" r="10.4" fill="#FCA42B"/>
<circle cx="1724.3" cy="1294.6" r="10.4" fill="#FCA42B"/>
<circle cx="1682.6" cy="1302.2" r="10.4" fill="#FCA42B"/>
<circle cx="1677.6" cy="1319.9" r="10.4" fill="#FCA42B"/>
<circle cx="1644.7" cy="1332.5" r="10.4" fill="#FCA42B"/>
<rect x="1680" y="1303.3" width="20.4" height="20.4" fill="#2E5079"/>
<rect x="1652.2" y="1331.1" width="20.4" height="20.4" fill="#2E5079"/>
<rect x="1529.6" y="1319.8" width="20.4" height="20.4" fill="#2E5079"/>
<rect x="1606.8" y="1334.8" width="20.4" height="20.4" fill="#2E5079"/>
<rect x="1620.8" y="1335.8" width="20.4" height="20.4" fill="#2E5079"/>
<rect x="1589" y="1350.1" width="20.4" height="20.4" fill="#2E5079"/>
<rect x="1567.5" y="1357.7" width="20.4" height="20.4" fill="#2E5079"/>
<rect x="1614.3" y="1357.7" width="20.4" height="20.4" fill="#2E5079"/>
<rect x="1552.4" y="1367.8" width="20.4" height="20.4" fill="#2E5079"/>
<rect x="1566.3" y="1375.4" width="20.4" height="20.4" fill="#2E5079"/>
<rect x="1518.3" y="1366.5" width="20.4" height="20.4" fill="#2E5079"/>
<rect x="1495.5" y="1367.8" width="20.4" height="20.4" fill="#2E5079"/>
<rect x="1475.3" y="1376.6" width="20.4" height="20.4" fill="#2E5079"/>
<rect x="1508.1" y="1380.4" width="20.4" height="20.4" fill="#2E5079"/>
<rect x="1487.9" y="1385.5" width="20.4" height="20.4" fill="#2E5079"/>
<path d="M1710.3 1166.8L1728.3 1184.8M1710.3 1184.8L1728.3 1166.8" stroke="#2E5079" stroke-width="4" fill="none"/>
<path d="M1735.5 1371.5L1753.5 1389.5M1735.5 1389.5L1753.5 1371.5" stroke="#2E5079" stroke-width="4" fill="none"/>
<path d="M1767.1 1308.3L1785.1 1326.3M1767.1 1326.3L1785.1 1308.3" stroke="#FCA42B" stroke-width="4" fill="none"/>
<line x1="1572.7" y1="1415.9" x2="1902.9" y2="1009.2" stroke="#FCA42B" stroke-width="4.6" stroke-linecap="butt"/>
<line x1="1407.9" y1="1415.5" x2="1902.9" y2="1266" stroke="#2E5079" stroke-width="4.6" stroke-linecap="butt"/>
</g>
<rect x="1377.8" y="1009.4" width="258.5" height="113.8" rx="5.5" fill="#fff" fill-opacity="0.8" stroke="#CCCCCC" stroke-width="2.3"/>
<circle cx="1426.1" cy="1041" r="10.4" fill="#FCA42B"/>
<rect x="1415.6" y="1082.6" width="20.4" height="20.4" fill="#2E5079"/>
<text x="1491.55" y="1049.4" font-size="36.5" textLength="129.03" lengthAdjust="spacingAndGlyphs">&gt; 30 m</text>
<text x="1491.04" y="1101.2" font-size="36.5" textLength="124.24" lengthAdjust="spacingAndGlyphs">0-30 m</text>
<rect x="1359.3" y="991.4" width="543.8" height="424.2" fill="none" stroke="#000" stroke-width="2.5"/>
<path d="M1359.3 1415.6v10.2M1540.6 1415.6v10.2M1721.8 1415.6v10.2M1903.1 1415.6v10.2M1359.3 1415.6h-10.2M1359.3 1327.2h-10.2M1359.3 1238.8h-10.2M1359.3 1150.5h-10.2M1359.3 1062.1h-10.2" stroke="#000" stroke-width="2.5" fill="none"/>
<text x="1348.87" y="1465" font-size="38.2" textLength="21.46" lengthAdjust="spacingAndGlyphs">0</text>
<text x="1530.12" y="1465" font-size="38.2" textLength="20.5" lengthAdjust="spacingAndGlyphs">1</text>
<text x="1711.8" y="1465" font-size="38.2" textLength="20.67" lengthAdjust="spacingAndGlyphs">2</text>
<text x="1893.21" y="1465" font-size="38.2" textLength="20.61" lengthAdjust="spacingAndGlyphs">3</text>
<text x="1520.61" y="1514.6" font-size="39.5" textLength="71.1" lengthAdjust="spacingAndGlyphs">dPO</text>
<text x="1596.63" y="1514.6" font-size="15" textLength="13.68" lengthAdjust="spacingAndGlyphs" stroke="#000" stroke-width="0.6">4</text>
<text x="1611.45" y="1502.7" font-size="22.5" textLength="13.96" lengthAdjust="spacingAndGlyphs" stroke="#000" stroke-width="0.4">3</text>
<rect x="1628.2" y="1495.1" width="14.6" height="2.0" fill="#000"/>
<text x="1657.52" y="1514.6" font-size="39.5" textLength="85.25" lengthAdjust="spacingAndGlyphs">[µM]</text>
<text transform="translate(71.6 355.96) rotate(-90)" x="0" y="0" font-size="39.5" textLength="170.14" lengthAdjust="spacingAndGlyphs">dCo [pM]</text>
<text transform="translate(97.3 822.1) rotate(-90)" x="0" y="0" font-size="39.5" textLength="168.93" lengthAdjust="spacingAndGlyphs">dZn [nM]</text>
<text transform="translate(37.3 1289.57) rotate(-90)" x="0" y="0" font-size="39.5" textLength="171.07" lengthAdjust="spacingAndGlyphs">dCd [nM]</text>
<text x="264.56" y="1600.1" font-size="46.4" textLength="324.39" lengthAdjust="spacingAndGlyphs">Amundsen Sea</text>
<g>
<line x1="152.7" y1="1766.9" x2="704.1" y2="1766.9" stroke="#FCA42B" stroke-width="4.6" stroke-linecap="butt"/>
<line x1="152.7" y1="1664" x2="704.1" y2="1664" stroke="#4A9AA1" stroke-width="4.6" stroke-linecap="butt"/>
<line x1="152.7" y1="1656.7" x2="704.1" y2="1656.7" stroke="#2E5079" stroke-width="4.6" stroke-linecap="butt"/>
</g>
<path d="M428.4 1640.4V1660.3M428.4 1714.6V1778.6" stroke="#000" stroke-width="2.4" fill="none"/>
<path d="M406.4 1640.4h44M406.4 1778.6h44" stroke="#000" stroke-width="2.4" fill="none"/>
<rect x="386.6" y="1660.3" width="83.5" height="54.3" fill="#DCDCDC" stroke="#000" stroke-width="2.4"/>
<line x1="386.6" y1="1680.1" x2="470.1" y2="1680.1" stroke="#000" stroke-width="2.4" stroke-linecap="butt"/>
<rect x="152.7" y="1619.9" width="551.4" height="514.9" fill="none" stroke="#000" stroke-width="2.5"/>
<path d="M428.4 2134.8v10.5M152.7 1619.9h-10.5M152.7 1766.9h-10.5M152.7 1913.9h-10.5M152.7 2060.9h-10.5" stroke="#000" stroke-width="2.5" fill="none"/>
<text x="108.45" y="1633.3" font-size="38.2" textLength="21.46" lengthAdjust="spacingAndGlyphs">0</text>
<text x="61.91" y="1780.3" font-size="38.2" textLength="68.1" lengthAdjust="spacingAndGlyphs">100</text>
<text x="61.6" y="1927.3" font-size="38.2" textLength="68.41" lengthAdjust="spacingAndGlyphs">200</text>
<text x="62.22" y="2074.3" font-size="38.2" textLength="67.78" lengthAdjust="spacingAndGlyphs">300</text>
<text x="935.22" y="1600.1" font-size="46.4" textLength="194.4" lengthAdjust="spacingAndGlyphs">Ross Sea</text>
<g>
<line x1="758.8" y1="1766.9" x2="1309.5" y2="1766.9" stroke="#FCA42B" stroke-width="4.6" stroke-linecap="butt"/>
<line x1="758.8" y1="1664" x2="1309.5" y2="1664" stroke="#4A9AA1" stroke-width="4.6" stroke-linecap="butt"/>
<line x1="758.8" y1="1656.7" x2="1309.5" y2="1656.7" stroke="#2E5079" stroke-width="4.6" stroke-linecap="butt"/>
</g>
<path d="M1034.2 1637.6V1646.6M1034.2 1700.2V1726.2" stroke="#000" stroke-width="2.4" fill="none"/>
<path d="M1012.2 1637.6h44M1012.2 1726.2h44" stroke="#000" stroke-width="2.4" fill="none"/>
<rect x="992.4" y="1646.6" width="83.5" height="53.6" fill="#DCDCDC" stroke="#000" stroke-width="2.4"/>
<line x1="992.4" y1="1672.8" x2="1075.9" y2="1672.8" stroke="#000" stroke-width="2.4" stroke-linecap="butt"/>
<rect x="758.8" y="1619.9" width="550.7" height="514.9" fill="none" stroke="#000" stroke-width="2.5"/>
<path d="M1034.2 2134.8v10.5M758.8 1619.9h-10.5M758.8 1766.9h-10.5M758.8 1913.9h-10.5M758.8 2060.9h-10.5" stroke="#000" stroke-width="2.5" fill="none"/>
<text x="1469.77" y="1600.1" font-size="46.4" textLength="337.36" lengthAdjust="spacingAndGlyphs">Terra Nova Bay</text>
<g>
<line x1="1364" y1="1766.9" x2="1916.1" y2="1766.9" stroke="#FCA42B" stroke-width="4.6" stroke-linecap="butt"/>
<line x1="1364" y1="1693.4" x2="1916.1" y2="1693.4" stroke="#4A9AA1" stroke-width="4.6" stroke-linecap="butt"/>
<line x1="1364" y1="1664" x2="1916.1" y2="1664" stroke="#2E5079" stroke-width="4.6" stroke-linecap="butt"/>
</g>
<path d="M1640 1643.3V1649.2M1640 1717.8V1717.8" stroke="#000" stroke-width="2.4" fill="none"/>
<path d="M1618 1643.3h44M1618 1717.8h44" stroke="#000" stroke-width="2.4" fill="none"/>
<rect x="1598.3" y="1649.2" width="83.5" height="68.6" fill="#DCDCDC" stroke="#000" stroke-width="2.4"/>
<line x1="1598.3" y1="1665.9" x2="1681.8" y2="1665.9" stroke="#000" stroke-width="2.4" stroke-linecap="butt"/>
<circle cx="1640" cy="1832.2" r="9.7" fill="none" stroke="#000" stroke-width="2.5"/>
<circle cx="1640" cy="1868.8" r="9.7" fill="none" stroke="#000" stroke-width="2.5"/>
<circle cx="1640" cy="2090.2" r="9.7" fill="none" stroke="#000" stroke-width="2.5"/>
<rect x="1364" y="1619.9" width="552.1" height="514.9" fill="none" stroke="#000" stroke-width="2.5"/>
<path d="M1640 2134.8v10.5M1364 1619.9h-10.5M1364 1766.9h-10.5M1364 1913.9h-10.5M1364 2060.9h-10.5" stroke="#000" stroke-width="2.5" fill="none"/>
<rect x="171.9" y="1937.8" width="501.5" height="178" rx="5.5" fill="#fff" fill-opacity="0.8" stroke="#CCCCCC" stroke-width="2.3"/>
<line x1="183.7" y1="1968.4" x2="265.3" y2="1968.4" stroke="#FCA42B" stroke-width="4.6" stroke-linecap="butt"/>
<text x="292.8" y="1982.3" font-size="40.4" textLength="366.08" lengthAdjust="spacingAndGlyphs">Co Inflection Depth</text>
<line x1="183.7" y1="2023.9" x2="265.3" y2="2023.9" stroke="#4A9AA1" stroke-width="4.6" stroke-linecap="butt"/>
<text x="293.6" y="2037.8" font-size="40.4" textLength="366.11" lengthAdjust="spacingAndGlyphs">Zn Inflection Depth</text>
<line x1="183.7" y1="2080.2" x2="265.3" y2="2080.2" stroke="#2E5079" stroke-width="4.6" stroke-linecap="butt"/>
<text x="292.8" y="2094.1" font-size="40.4" textLength="366.97" lengthAdjust="spacingAndGlyphs">Cd Inflection Depth</text>
<text transform="translate(36.8 1971.92) rotate(-90)" x="0" y="0" font-size="39.5" textLength="191.25" lengthAdjust="spacingAndGlyphs">Depth [m]</text>
</svg>
</body></html>
